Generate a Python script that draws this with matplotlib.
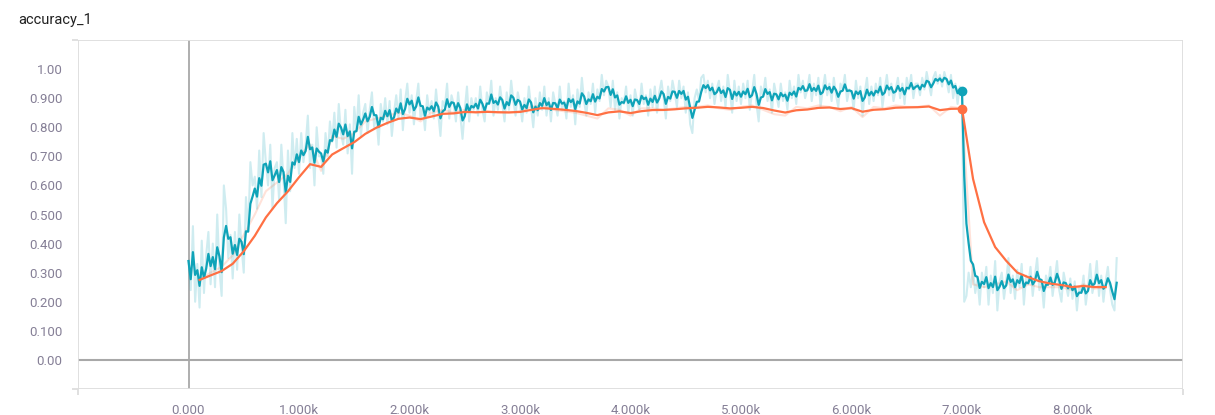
import numpy as np
import matplotlib
matplotlib.use("Agg")
import matplotlib.pyplot as plt
from matplotlib.ticker import FixedLocator, FuncFormatter

plt.rcParams["font.family"] = ["Roboto", "DejaVu Sans"]

title = "accuracy_1"
smoothing = 0.6

# run 1 (cyan): raw accuracy every 20 steps, 0 .. 8400
blue_step0, blue_dstep = 0, 20
blue_raw = [
    0.34, 0.24, 0.46, 0.20, 0.33, 0.18, 0.41, 0.23, 0.36, 0.44,
    0.26, 0.40, 0.25, 0.50, 0.31, 0.22, 0.60, 0.52, 0.35, 0.43,
    0.28, 0.44, 0.31, 0.50, 0.39, 0.30, 0.56, 0.44, 0.68, 0.60,
    0.63, 0.52, 0.72, 0.56, 0.78, 0.68, 0.60, 0.74, 0.52, 0.66,
    0.68, 0.55, 0.74, 0.62, 0.47, 0.72, 0.58, 0.78, 0.66, 0.76,
    0.64, 0.78, 0.68, 0.74, 0.84, 0.66, 0.74, 0.60, 0.80, 0.70,
    0.70, 0.64, 0.78, 0.70, 0.82, 0.75, 0.85, 0.73, 0.88, 0.78,
    0.74, 0.86, 0.71, 0.81, 0.64, 0.87, 0.79, 0.91, 0.77, 0.85,
    0.88, 0.78, 0.86, 0.92, 0.80, 0.84, 0.74, 0.88, 0.82, 0.90,
    0.81, 0.89, 0.77, 0.85, 0.91, 0.83, 0.93, 0.79, 0.89, 0.95,
    0.85, 0.91, 0.81, 0.89, 0.95, 0.83, 0.87, 0.79, 0.91, 0.85,
    0.89, 0.83, 0.93, 0.85, 0.77, 0.89, 0.87, 0.95, 0.83, 0.91,
    0.88, 0.82, 0.92, 0.84, 0.76, 0.86, 0.94, 0.82, 0.90, 0.86,
    0.90, 0.84, 0.94, 0.86, 0.82, 0.92, 0.88, 0.96, 0.84, 0.90,
    0.86, 0.94, 0.88, 0.82, 0.92, 0.86, 0.96, 0.89, 0.84, 0.92,
    0.88, 0.82, 0.90, 0.85, 0.94, 0.87, 0.80, 0.90, 0.84, 0.92,
    0.86, 0.94, 0.84, 0.90, 0.82, 0.92, 0.88, 0.84, 0.94, 0.86,
    0.89, 0.83, 0.95, 0.87, 0.91, 0.81, 0.93, 0.87, 0.97, 0.89,
    0.84, 0.92, 0.88, 0.95, 0.85, 0.93, 0.89, 0.98, 0.91, 0.96,
    0.94, 0.87, 0.96, 0.86, 0.92, 0.83, 0.90, 0.88, 0.94, 0.85,
    0.91, 0.84, 0.93, 0.89, 0.86, 0.95, 0.88, 0.91, 0.84, 0.93,
    0.87, 0.94, 0.85, 0.92, 0.96, 0.90, 0.83, 0.94, 0.89, 0.96,
    0.92, 0.87, 0.96, 0.90, 0.94, 0.85, 0.92, 0.81, 0.78, 0.90,
    0.93, 0.89, 0.97, 0.98, 0.92, 0.96, 0.90, 0.95, 0.88, 0.93,
    0.96, 0.89, 0.94, 0.87, 0.98, 0.92, 0.85, 0.96, 0.89, 0.94,
    0.88, 0.95, 0.90, 0.96, 0.86, 0.92, 0.98, 0.88, 0.82, 0.94,
    0.91, 0.97, 0.89, 0.93, 0.85, 0.95, 0.91, 0.87, 0.95, 0.89,
    0.92, 0.86, 0.96, 0.90, 0.94, 0.88, 0.98, 0.92, 0.96, 0.90,
    0.93, 0.98, 0.89, 0.95, 0.91, 0.97, 0.87, 0.93, 0.98, 0.91,
    0.95, 0.89, 0.97, 0.91, 0.87, 0.95, 0.93, 0.98, 0.89, 0.93,
    0.92, 0.86, 0.96, 0.90, 0.94, 0.84, 0.92, 0.97, 0.88, 0.94,
    0.89, 0.95, 0.91, 0.97, 0.87, 0.93, 0.98, 0.91, 0.95, 0.89,
    0.93, 0.97, 0.90, 0.95, 0.88, 0.97, 0.93, 0.98, 0.90, 0.95,
    0.95, 0.91, 0.97, 0.93, 0.99, 0.95, 0.91, 0.97, 0.99, 0.95,
    0.98, 0.94, 0.99, 0.96, 0.92, 0.98, 0.90, 0.95, 0.88, 0.94,
    0.92, 0.20, 0.22, 0.30, 0.25, 0.31, 0.23, 0.28, 0.19, 0.30,
    0.25, 0.32, 0.19, 0.29, 0.23, 0.34, 0.17, 0.27, 0.30, 0.21,
    0.27, 0.35, 0.23, 0.29, 0.21, 0.31, 0.25, 0.33, 0.19, 0.29,
    0.26, 0.32, 0.22, 0.29, 0.35, 0.24, 0.27, 0.18, 0.29, 0.26,
    0.32, 0.22, 0.28, 0.34, 0.24, 0.20, 0.30, 0.26, 0.22, 0.28,
    0.21, 0.27, 0.17, 0.25, 0.23, 0.29, 0.19, 0.25, 0.33, 0.23,
    0.27, 0.34, 0.22, 0.29, 0.20, 0.27, 0.32, 0.24, 0.19, 0.17,
    0.35,
]

# run 2 (orange): raw accuracy every 100 steps, 100 .. 8300
orange_step0, orange_dstep = 100, 100
orange_raw = [
    0.275, 0.30, 0.32, 0.36, 0.43, 0.50, 0.58, 0.61, 0.64, 0.70,
    0.74, 0.65, 0.77, 0.76, 0.78, 0.82, 0.83, 0.84, 0.85, 0.84,
    0.82, 0.85, 0.86, 0.85, 0.86, 0.85, 0.855, 0.85, 0.85, 0.855,
    0.87, 0.875, 0.86, 0.855, 0.85, 0.84, 0.83, 0.865, 0.86, 0.84,
    0.865, 0.865, 0.86, 0.865, 0.87, 0.87, 0.875, 0.865, 0.86, 0.87,
    0.875, 0.86, 0.845, 0.84, 0.87, 0.865, 0.875, 0.87, 0.855, 0.87,
    0.835, 0.87, 0.865, 0.875, 0.87, 0.87, 0.875, 0.84, 0.87, 0.865,
    0.26, 0.25, 0.26, 0.27, 0.24, 0.26, 0.25, 0.25, 0.25, 0.24,
    0.26, 0.245, 0.25,
]

hover_step = 7000

x_ticks = [0, 1000, 2000, 3000, 4000, 5000, 6000, 7000, 8000]
y_labels = {0.0: "0.00", 0.1: "0.100", 0.2: "0.200", 0.3: "0.300", 0.4: "0.400",
            0.5: "0.500", 0.6: "0.600", 0.7: "0.700", 0.8: "0.800", 0.9: "0.900",
            1.0: "1.00"}


def tb_smooth(values, weight):
    # tensorboard style debiased exponential moving average
    out = []
    last = 0.0
    for i, v in enumerate(values):
        last = last * weight + (1 - weight) * v
        out.append(last / (1 - weight ** (i + 1)))
    return np.array(out)


blue_x = blue_step0 + blue_dstep * np.arange(len(blue_raw))
orange_x = orange_step0 + orange_dstep * np.arange(len(orange_raw))
blue_s = tb_smooth(blue_raw, smoothing)
orange_s = tb_smooth(orange_raw, smoothing)

blue = "#0fa3b8"
orange = "#ff7043"
tick_color = "#857f96"

fig = plt.figure(figsize=(12.15, 4.15), dpi=100)
ax = fig.add_axes([78 / 1215, 1 - 389 / 415, 1105 / 1215, 349 / 415])

ax.plot(blue_x, blue_raw, color=blue, alpha=0.2, lw=1.5, zorder=2)
ax.plot(orange_x, orange_raw, color=orange, alpha=0.2, lw=1.5, zorder=2)
ax.plot(orange_x, orange_s, color=orange, lw=1.6, zorder=4)
ax.plot(blue_x, blue_s, color=blue, lw=1.6, zorder=3)

bi = list(blue_x).index(hover_step)
oi = list(orange_x).index(hover_step)
ax.plot([hover_step], [blue_s[bi]], "o", color=blue, ms=6, zorder=5)
ax.plot([hover_step], [orange_s[oi]], "o", color=orange, ms=6, zorder=5)

ax.set_xlim(-1000, 9000)
ax.set_ylim(-0.1, 1.1)

ax.xaxis.set_major_locator(FixedLocator(x_ticks))
ax.xaxis.set_minor_locator(FixedLocator(np.arange(-1000, 9001, 1000)))
ax.xaxis.set_major_formatter(
    FuncFormatter(lambda v, p: "0.000" if v == 0 else f"{v / 1000:.3f}k"))
ax.yaxis.set_major_locator(FixedLocator(list(y_labels.keys())))
ax.yaxis.set_minor_locator(FixedLocator(np.round(np.arange(-0.1, 1.11, 0.1), 2)))
ax.yaxis.set_major_formatter(
    FuncFormatter(lambda v, p: y_labels.get(round(v, 1), "")))

ax.grid(True, which="minor", color="#dddddd", lw=1.3, zorder=0)
ax.tick_params(which="major", length=0, labelsize=9.5, labelcolor=tick_color, pad=11)
ax.tick_params(axis="y", which="minor", length=4, color="#dddddd", width=1.3)
ax.tick_params(axis="x", which="minor", length=4, color="#dddddd", width=1.3)
ax.axhline(0, color="#a8a8a8", lw=1.5, zorder=1)
ax.axvline(0, color="#a8a8a8", lw=1.3, zorder=1)
for s in ax.spines.values():
    s.set_visible(False)

fig.text(18 / 1215, 1 - 20 / 415, title, fontsize=10.5, color="#212121",
         va="center", ha="left")

fig.savefig("out.png", dpi=100)
